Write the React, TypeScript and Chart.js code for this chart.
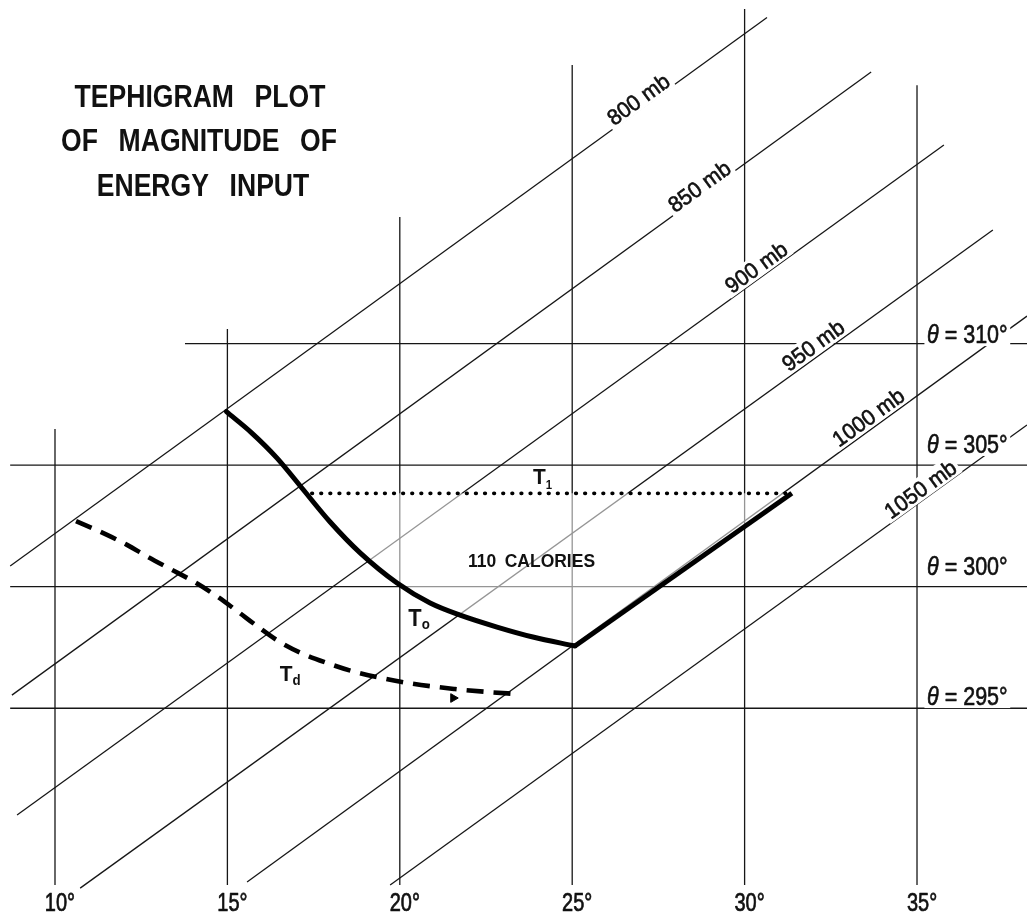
import React, { useEffect, useRef } from "react";
import { Chart, registerables } from "chart.js";

Chart.register(...registerables);

// ---------------- data (temperature °C on x, potential temperature θ K on y) ----------------
const TEMP_TICKS = [10, 15, 20, 25, 30, 35];
const ISOTHERM_TOP = [306.49, 310.6, 315.21, 321.46, 323.76, 320.63];
const ISOTHERM_BOTTOM = 287.73;

const THETA_TICKS = [295, 300, 305, 310];
const ISENTROPE_FROM = [8.7, 8.7, 8.7, 13.77];

const ISOBAR_P = [800, 850, 900, 950, 1000, 1050];
const ISOBAR_T_LOW = [8.7, 8.75, 8.9, 10.73, 15.57, 19.72];
const ISOBAR_THETA_LOW = [300.85, 295.54, 290.61, 287.6, 287.85, 287.73];
const ISOBAR_T_HIGH = [30.65, 33.67, 35.78, 37.2, 38.19, 38.19];
const ISOBAR_THETA_HIGH = [323.41, 321.17, 318.17, 314.67, 311.13, 306.65];

// initial sounding T0
const T0_TEMP = [14.97, 15.71, 16.44, 17.16, 17.98, 18.85, 19.92, 20.88, 21.75, 22.82, 23.86, 25.08];
const T0_THETA = [307.2, 306.32, 305.29, 304.06, 302.66, 301.39, 300.15, 299.33, 298.83, 298.34, 297.93, 297.56];

// surface heating along the 1000 mb isobar
const HEAT_TEMP = [25.08, 31.37];
const HEAT_THETA = [297.56, 303.84];

// final isentrope T1
const T1_TEMP = [17.45, 31.37];
const T1_THETA = 303.84;

// dew point Td
const TD_TEMP = [10.61, 11.51, 12.09, 12.7, 13.34, 14.0, 14.64, 15.28, 15.86, 16.47, 17.14, 17.89, 18.61, 20.06, 21.6, 22.53, 23.43];
const TD_THETA = [302.7, 302.13, 301.72, 301.22, 300.73, 300.23, 299.66, 299.0, 298.38, 297.77, 297.27, 296.86, 296.53, 296.08, 295.79, 295.67, 295.58];
const TD_ARROW = [21.55, 295.42];

const ENERGY_TEXT = "110 CALORIES";
const TITLE_LINES = ["TEPHIGRAM PLOT", "OF MAGNITUDE OF", "ENERGY INPUT"];

// axis ranges
const X_RANGE = [8.405, 38.19];
const Y_RANGE = [286.618, 324.133];

// ---------------- drawing helpers ----------------
const FAMILY = '"Liberation Sans", Arial, sans-serif';
type Run = { text: string; size: number; weight?: string; italic?: boolean; dy?: number };
type DrawOpts = {
  align?: "center" | "left";
  rotate?: number;
  scaleX?: number;
  box?: boolean;
  wordSpacing?: number;
  stroke?: number;
};

function fontOf(r: Run) {
  return `${r.italic ? "italic " : ""}${r.weight || "normal"} ${r.size}px ${FAMILY}`;
}

function drawRuns(ctx: CanvasRenderingContext2D, runs: Run[], cx: number, cy: number, o: DrawOpts = {}) {
  ctx.save();
  ctx.translate(cx, cy);
  if (o.rotate) ctx.rotate(o.rotate);
  ctx.scale(o.scaleX ?? 1, 1);
  if ("wordSpacing" in ctx) (ctx as any).wordSpacing = `${o.wordSpacing ?? 0}px`;
  const widths = runs.map((r) => {
    ctx.font = fontOf(r);
    return ctx.measureText(r.text).width;
  });
  const total = widths.reduce((a, b) => a + b, 0);
  const cap = runs[0].size * 0.72;
  let x = o.align === "left" ? 0 : -total / 2;
  if (o.box) {
    ctx.fillStyle = "#fff";
    ctx.fillRect(x - 3, -cap / 2 - 3, total + 6, cap + 6);
  }
  ctx.fillStyle = "#111";
  ctx.strokeStyle = "#111";
  ctx.lineWidth = o.stroke ?? 0;
  ctx.lineJoin = "round";
  ctx.textBaseline = "alphabetic";
  ctx.textAlign = "left";
  runs.forEach((r, i) => {
    ctx.font = fontOf(r);
    ctx.fillText(r.text, x, cap / 2 + (r.dy || 0));
    if (o.stroke) ctx.strokeText(r.text, x, cap / 2 + (r.dy || 0));
    x += widths[i];
  });
  ctx.restore();
}

// label anchors (centre of capitals) in data coordinates
const ISOBAR_LABEL_AT = [
  [26.91, 320.06],
  [28.68, 316.48],
  [30.33, 313.15],
  [31.98, 309.94],
  [33.58, 306.98],
  [35.09, 304.02],
];
const THETA_LABEL_AT = [295.5, 300.85, 305.87, 310.39];

const textPlugin = {
  id: "tephiText",
  afterDatasetsDraw(chart: any) {
    const ctx: CanvasRenderingContext2D = chart.ctx;
    const xs = chart.scales.x;
    const ys = chart.scales.y;
    const px = (t: number) => xs.getPixelForValue(t);
    const py = (th: number) => ys.getPixelForValue(th);

    // title
    const titleY = [95, 139, 184];
    const titleX = [200, 199, 203];
    TITLE_LINES.forEach((line, i) =>
      drawRuns(ctx, [{ text: line, size: 32, weight: "bold" }], titleX[i], titleY[i], {
        scaleX: 0.83,
        wordSpacing: 16,
      })
    );

    // temperature tick labels
    TEMP_TICKS.forEach((t) =>
      drawRuns(ctx, [{ text: `${t}°`, size: 25 }], px(t) + 5, py(ISOTHERM_BOTTOM) + 17, {
        scaleX: 0.8,
        stroke: 0.7,
      })
    );

    // isobar labels
    ISOBAR_P.forEach((p, i) => {
      const ang = Math.atan2(
        py(ISOBAR_THETA_HIGH[i]) - py(ISOBAR_THETA_LOW[i]),
        px(ISOBAR_T_HIGH[i]) - px(ISOBAR_T_LOW[i])
      );
      const [t, th] = ISOBAR_LABEL_AT[i];
      drawRuns(ctx, [{ text: `${p} mb`, size: 22 }], px(t), py(th), {
        rotate: ang,
        box: true,
        scaleX: 0.97,
        stroke: 0.6,
      });
    });

    // theta labels
    THETA_TICKS.forEach((th, i) =>
      drawRuns(
        ctx,
        [
          { text: "θ", size: 25, italic: true },
          { text: ` = ${th}°`, size: 25 },
        ],
        px(TEMP_TICKS[TEMP_TICKS.length - 1]) + 10,
        py(THETA_LABEL_AT[i]),
        { align: "left", scaleX: 0.86, box: true, stroke: 0.6 }
      )
    );

    // curve labels
    drawRuns(
      ctx,
      [
        { text: "T", size: 22, weight: "bold" },
        { text: "1", size: 12, weight: "bold", dy: 5 },
      ],
      px(24.14),
      py(304.57),
      { scaleX: 0.95 }
    );
    drawRuns(
      ctx,
      [
        { text: "T", size: 23, weight: "bold" },
        { text: "o", size: 14, weight: "bold", dy: 3 },
      ],
      px(20.56),
      py(298.71),
      { scaleX: 0.95 }
    );
    drawRuns(
      ctx,
      [
        { text: "T", size: 22, weight: "bold" },
        { text: "d", size: 14, weight: "bold", dy: 4 },
      ],
      px(16.82),
      py(296.43),
      { scaleX: 0.95 }
    );
    drawRuns(ctx, [{ text: ENERGY_TEXT, size: 19, weight: "bold" }], px(23.82), py(301.1), {
      scaleX: 0.92,
      wordSpacing: 4,
    });
  },
};

function seg(a: [number, number], b: [number, number]) {
  return [
    { x: a[0], y: a[1] },
    { x: b[0], y: b[1] },
  ];
}

export default function App() {
  const ref = useRef<HTMLCanvasElement | null>(null);

  useEffect(() => {
    document.body.style.margin = "0";
    const canvas = ref.current;
    if (!canvas) return;

    const GRID = "#161616";
    const gridLine = (data: any[]) => ({
      data,
      showLine: true,
      borderColor: GRID,
      borderWidth: 1.3,
      pointRadius: 0,
      order: 10,
    });

    const datasets: any[] = [];

    TEMP_TICKS.forEach((t, i) => datasets.push(gridLine(seg([t, ISOTHERM_BOTTOM], [t, ISOTHERM_TOP[i]]))));
    THETA_TICKS.forEach((th, i) => datasets.push(gridLine(seg([ISENTROPE_FROM[i], th], [X_RANGE[1], th]))));
    ISOBAR_P.forEach((_, i) =>
      datasets.push(
        gridLine(seg([ISOBAR_T_LOW[i], ISOBAR_THETA_LOW[i]], [ISOBAR_T_HIGH[i], ISOBAR_THETA_HIGH[i]]))
      )
    );

    // energy area (lightens grid inside)
    const shade: { x: number; y: number }[] = [{ x: T1_TEMP[0], y: T1_THETA }];
    T0_TEMP.forEach((t, i) => {
      if (T0_THETA[i] < T1_THETA) shade.push({ x: t, y: T0_THETA[i] });
    });
    shade.push({ x: HEAT_TEMP[1], y: HEAT_THETA[1] });
    shade.push({ x: T1_TEMP[0], y: T1_THETA });
    datasets.push({
      data: shade,
      showLine: true,
      fill: "shape",
      backgroundColor: "rgba(255,255,255,0.55)",
      borderWidth: 0,
      borderColor: "rgba(0,0,0,0)",
      pointRadius: 0,
      order: 5,
    });

    // T0 curve
    datasets.push({
      data: T0_TEMP.map((t, i) => ({ x: t, y: T0_THETA[i] })),
      showLine: true,
      borderColor: "#000",
      borderWidth: 5,
      cubicInterpolationMode: "monotone",
      borderCapStyle: "round",
      borderJoinStyle: "round",
      pointRadius: 0,
      order: 1,
    });
    // heating line
    datasets.push({
      data: HEAT_TEMP.map((t, i) => ({ x: t, y: HEAT_THETA[i] })),
      showLine: true,
      borderColor: "#000",
      borderWidth: 5,
      borderCapStyle: "butt",
      pointRadius: 0,
      order: 1,
    });
    // T1 dotted
    datasets.push({
      data: T1_TEMP.map((t) => ({ x: t, y: T1_THETA })),
      showLine: true,
      borderColor: "#000",
      borderWidth: 3.8,
      borderDash: [0.5, 8.6],
      borderCapStyle: "round",
      pointRadius: 0,
      order: 1,
    });
    // Td dashed
    datasets.push({
      data: TD_TEMP.map((t, i) => ({ x: t, y: TD_THETA[i] })),
      showLine: true,
      borderColor: "#000",
      borderWidth: 4.6,
      borderDash: [17, 10],
      borderCapStyle: "butt",
      cubicInterpolationMode: "monotone",
      pointRadius: 0,
      order: 1,
    });
    // small arrow mark on Td
    datasets.push({
      data: [{ x: TD_ARROW[0], y: TD_ARROW[1] }],
      showLine: false,
      pointStyle: "triangle",
      rotation: 90,
      pointRadius: 5,
      pointBackgroundColor: "#000",
      pointBorderColor: "#000",
      order: 1,
    });

    const chart = new Chart(canvas, {
      type: "scatter",
      data: { datasets },
      options: {
        animation: false,
        responsive: false,
        maintainAspectRatio: false,
        events: [],
        layout: { padding: 0, autoPadding: false },
        plugins: { legend: { display: false }, tooltip: { enabled: false }, title: { display: false } },
        scales: {
          x: { type: "linear", min: X_RANGE[0], max: X_RANGE[1], display: false },
          y: { type: "linear", min: Y_RANGE[0], max: Y_RANGE[1], display: false },
        },
      } as any,
      plugins: [textPlugin as any],
    });

    return () => chart.destroy();
  }, []);

  return (
    <div style={{ width: 1027, height: 912, background: "#fff" }}>
      <canvas ref={ref} width={1027} height={912} style={{ display: "block" }} />
    </div>
  );
}
